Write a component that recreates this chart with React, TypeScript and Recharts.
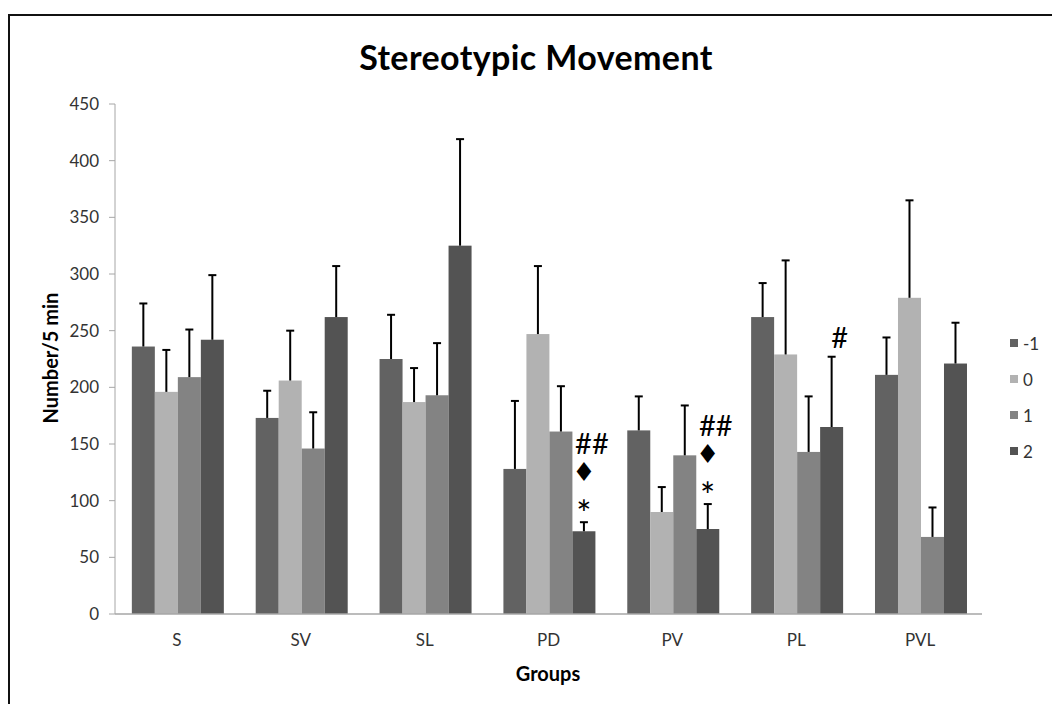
import React from 'react';
import { BarChart, Bar, XAxis, YAxis, Legend } from 'recharts';

const groups = ['S', 'SV', 'SL', 'PD', 'PV', 'PL', 'PVL'];
const seriesNames = ['-1', '0', '1', '2'];
const seriesColors = ['#626262', '#b2b2b2', '#838383', '#535353'];

// means per group for each series
const meanM1 = [236, 173, 225, 128, 162, 262, 211];
const mean0 = [196, 206, 187, 247, 90, 229, 279];
const mean1 = [209, 146, 193, 161, 140, 143, 68];
const mean2 = [242, 262, 325, 73, 75, 165, 221];

// upper error (SEM)
const errM1 = [38, 24, 39, 60, 30, 30, 33];
const err0 = [37, 44, 30, 60, 22, 83, 86];
const err1 = [42, 32, 46, 40, 44, 49, 26];
const err2 = [57, 45, 94, 8, 22, 62, 36];

// significance marks above the "2" bars, listed top to bottom
const sigMarks: string[][] = [[], [], [], ['##', '♦', '*'], ['##', '♦', '*'], ['#'], []];

const yTicks = [0, 50, 100, 150, 200, 250, 300, 350, 400, 450];

const data = groups.map((g, i) => ({
  group: g,
  m1: meanM1[i],
  z0: mean0[i],
  p1: mean1[i],
  p2: mean2[i],
  eM1: errM1[i],
  e0: err0[i],
  e1: err1[i],
  e2: err2[i],
  marks: sigMarks[i],
}));

const FONT = 'Lato, "Open Sans", sans-serif';

const barWithError = (errKey: string, withMarks = false) => (props: any) => {
  const { x, y, width, height, fill, payload, value } = props;
  const v = Array.isArray(value) ? value[1] - value[0] : value;
  const k = v ? height / v : 0;
  const top = y - payload[errKey] * k;
  const cx = x + width / 2;
  const marks: string[] = withMarks ? payload.marks : [];
  return (
    <g>
      <rect x={x} y={y} width={width} height={height} fill={fill} />
      <line x1={cx} x2={cx} y1={y} y2={top} stroke="#000" strokeWidth={2} />
      <line x1={cx - 4} x2={cx + 4} y1={top} y2={top} stroke="#000" strokeWidth={2} />
      {marks.map((m, i) => {
        const level = marks.length - 1 - i;
        const cy = top - 20 - level * 30;
        const isHash = m.startsWith('#');
        const isStar = m === '*';
        return (
          <text
            key={i}
            x={cx + (isHash ? 8 : 0)}
            y={cy + (isStar ? 11 : 0)}
            textAnchor="middle"
            dominantBaseline="central"
            fontFamily={isHash || isStar ? FONT : '"DejaVu Sans", sans-serif'}
            fontSize={m === '♦' ? 26 : isStar ? 36 : 29}
            fill="#000"
          >
            {m}
          </text>
        );
      })}
    </g>
  );
};

const renderLegend = () => (
  <div style={{ width: 50, fontFamily: FONT, fontSize: 17, color: '#333' }}>
    {seriesNames.map((n, i) => (
      <div key={n} style={{ display: 'flex', alignItems: 'center', height: 36 }}>
        <span style={{ width: 8, height: 8, background: seriesColors[i], marginRight: 5, display: 'inline-block' }} />
        {n}
      </div>
    ))}
  </div>
);

export default function App() {
  return (
    <div style={{ position: 'absolute', left: 0, top: 0, background: '#fff' }}>
      <BarChart
        width={1052}
        height={704}
        data={data}
        margin={{ top: 104, right: 20, bottom: 60, left: 0 }}
        barCategoryGap="13.6%"
        barGap={0}
      >
        <rect x={9} y={15} width={1200} height={1000} fill="none" stroke="#111" strokeWidth={2} />
        <text x={536} y={70} textAnchor="middle" fontFamily={FONT} fontWeight={700} fontSize={34} letterSpacing={0.4} fill="#000">
          Stereotypic Movement
        </text>
        <text
          x={50}
          y={358}
          transform="rotate(-90 50 358)"
          textAnchor="middle"
          dominantBaseline="central"
          fontFamily={FONT}
          fontWeight={700}
          fontSize={20}
          fill="#000"
        >
          Number/5 min
        </text>
        <text x={548} y={673} textAnchor="middle" dominantBaseline="central" fontFamily={FONT} fontWeight={700} fontSize={20} fill="#000">
          Groups
        </text>
        <XAxis
          dataKey="group"
          height={30}
          tickLine={false}
          tickSize={0}
          tickMargin={20}
          axisLine={{ stroke: '#a6a6a6', strokeWidth: 1.5 }}
          tick={{ fontFamily: FONT, fontSize: 17, fill: '#333' }}
        />
        <YAxis
          width={115}
          domain={[0, 450]}
          ticks={yTicks}
          interval={0}
          tickSize={6}
          tickMargin={10}
          axisLine={{ stroke: '#a6a6a6' }}
          tickLine={{ stroke: '#a6a6a6' }}
          tick={{ fontFamily: FONT, fontSize: 17, fill: '#333' }}
        />
        <Legend
          layout="vertical"
          align="right"
          verticalAlign="middle"
          content={renderLegend}
          wrapperStyle={{ left: 1010, right: 'auto', top: 325 }}
        />
        <Bar dataKey="m1" name="-1" fill={seriesColors[0]} shape={barWithError('eM1')} isAnimationActive={false} />
        <Bar dataKey="z0" name="0" fill={seriesColors[1]} shape={barWithError('e0')} isAnimationActive={false} />
        <Bar dataKey="p1" name="1" fill={seriesColors[2]} shape={barWithError('e1')} isAnimationActive={false} />
        <Bar dataKey="p2" name="2" fill={seriesColors[3]} shape={barWithError('e2', true)} isAnimationActive={false} />
      </BarChart>
    </div>
  );
}
